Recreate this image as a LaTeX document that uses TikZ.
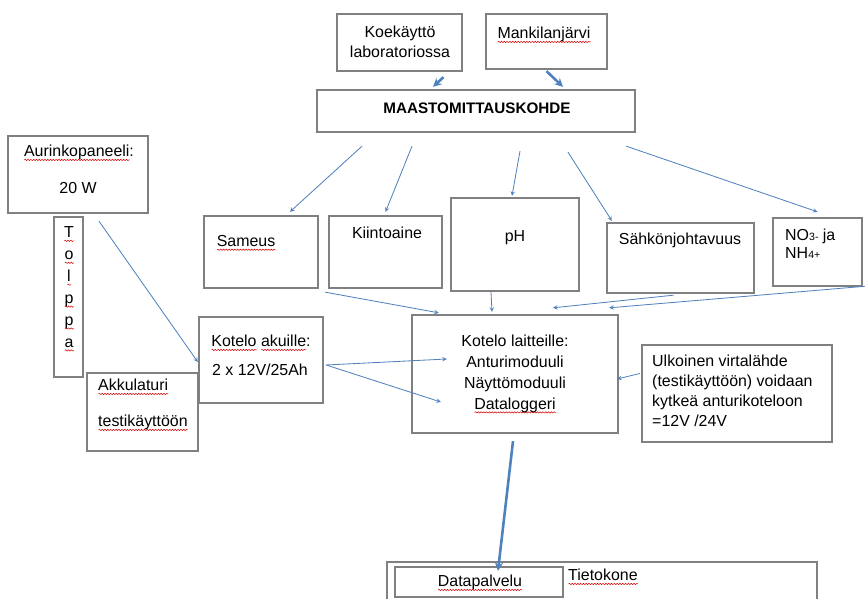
\documentclass[tikz,border=0pt]{standalone}
\usepackage{fontspec}
\setmainfont{Liberation Sans}
\usetikzlibrary{arrows}
\usetikzlibrary{fit}
\usetikzlibrary{decorations.pathmorphing}

\definecolor{boxgray}{RGB}{128,128,128}
\definecolor{arrowblue}{RGB}{79,129,189}
\newsavebox{\spellbox}
\newlength{\spellwd}
\newcommand{\spell}[1]{\sbox{\spellbox}{#1}\setlength{\spellwd}{\wd\spellbox}%
	\rlap{\tikz[baseline=0pt]\draw[red!85!black, line width=0.45pt, decorate,
		decoration={snake, amplitude=0.55pt, segment length=2.4pt}] (0pt,-2.8pt) -- (\spellwd,-2.8pt);}%
	\usebox{\spellbox}}

\begin{document}
\begin{tikzpicture}[x=0.03cm, y=-0.03cm,
	box/.style={draw=boxgray, line width=2pt, inner sep=0pt, fill=white},
	txt/.style={font=\fontsize{13.6}{17}\selectfont, inner sep=0pt},
	thinarrow/.style={->, >=stealth, draw=arrowblue, line width=0.7pt},
	thickarrow/.style={->, >=stealth, draw=arrowblue, line width=2.2pt}]

	\useasboundingbox[fill=white] (0,0) rectangle (865,599);

	% boxes
	\node[box, fit={(337,14) (462,71)}] (koe) {};
	\node[box, fit={(486,14) (607,69)}] (mank) {};
	\node[box, fit={(317,90) (635,132)}] (maasto) {};
	\node[box, fit={(8,136) (148,213)}] (aurinko) {};
	\node[box, fit={(54,217) (83,377)}] (tolppa) {};
	\node[box, fit={(87,373) (198,451)}] (akkulat) {};
	\node[box, fit={(199,317) (323,403)}] (akuille) {};
	\node[box, fit={(204,216) (318,288)}] (sameus) {};
	\node[box, fit={(329,216) (442,288)}] (kiinto) {};
	\node[box, fit={(451,198) (579,291)}] (ph) {};
	\node[box, fit={(607,223) (754,293)}] (sahko) {};
	\node[box, fit={(773,218) (862,286)}] (no3) {};
	\node[box, fit={(412,315) (618,433)}] (laitteet) {};
	\node[box, fit={(642,345) (832,442)}] (ulko) {};
	\node[box, fit={(387,562) (817,625)}] (tieto) {};
	\node[box, fit={(395,567) (563,597)}] (datapal) {};

	% text nodes
	\node[txt, align=center] (koeT) at (400,42) {Koekäyttö\\laboratoriossa};
	\node[txt] (mankT) at (544,35) {\spell{Mankilanjärvi}};
	\node[txt, font=\bfseries\fontsize{13}{16}\selectfont] (maastoT) at (477,108) {MAASTOMITTAUSKOHDE};
	\node[txt] (aurT) at (79,153) {\spell{Aurinkopaneeli}:};
	\node[txt] (wattT) at (78,188) {20 W};
	\node[txt, align=center, font=\fontsize{13.6}{18.7}\selectfont] (tolT) at (69,289)
		{\spell{T}\\\spell{o}\\\spell{l}\\\spell{p}\\\spell{p}\\\spell{a}};
	\node[txt, anchor=west] (akkT) at (98,387) {\spell{Akkulaturi}};
	\node[txt, anchor=west] (testT) at (98,423) {\spell{testikäyttöön}};
	\node[txt] (akuT) at (261,343) {\spell{Kotelo} \spell{akuille}:};
	\node[txt] (akkuT) at (260,370) {2 x 12V/25Ah};
	\node[txt] (samT) at (246,243) {\spell{Sameus}};
	\node[txt] (kiiT) at (387,233) {Kiintoaine};
	\node[txt] (phT) at (515,238) {pH};
	\node[txt] (sahT) at (680,240) {Sähkönjohtavuus};
	\node[txt, anchor=west, align=left, font=\fontsize{13.6}{15.5}\selectfont] (noT) at (785,244)
		{NO{\fontsize{9}{9}\selectfont 3-} ja\\NH{\fontsize{9}{9}\selectfont 4+}};
	\node[txt, align=center, font=\fontsize{13.6}{17.9}\selectfont] (laiT) at (515,374)
		{Kotelo laitteille:\\Anturimoduuli\\Näyttömoduuli\\\spell{Dataloggeri}};
	\node[txt, anchor=west, align=left] (ulkT) at (652,391)
		{Ulkoinen virtalähde\\(testikäyttöön) voidaan\\kytkeä anturikoteloon\\=12V /24V};
	\node[txt] (dpT) at (480,583) {\spell{Datapalvelu}};
	\node[txt, anchor=west] (tkT) at (568,577) {\spell{Tietokone}};

	% Arrows
	\draw[thickarrow] ([shift={(44,5)}]koe.south) -- ([shift={(-43,-2)}]maasto.north);
	\draw[thickarrow] ([shift={(0,1)}]mank.south) -- ([shift={(87,-2)}]maasto.north);
	\draw[thinarrow] ([shift={(-114,13)}]maasto.south) -- ([shift={(29,-3)}]sameus.north);
	\draw[thinarrow] ([shift={(-64,13)}]maasto.south) -- ([shift={(0,-3)}]kiinto.north);
	\draw[thinarrow] ([shift={(44,18)}]maasto.south) -- ([shift={(-3,-1)}]ph.north);
	\draw[thinarrow] ([shift={(92,19)}]maasto.south) -- ([shift={(6,-1)}]sahko.north west);
	\draw[thinarrow] ([shift={(-10,13)}]maasto.south east) -- ([shift={(0,-5)}]no3.north);
	\draw[thinarrow] ([shift={(21,7)}]aurinko.south) -- ([shift={(0,2)}]akuille.west);
	\draw[thinarrow] ([shift={(2,5)}]akuille.east) -- ([shift={(36,-15)}]laitteet.west);
	\draw[thinarrow] ([shift={(2,5)}]akuille.east) -- ([shift={(30,28)}]laitteet.west);
	\draw[thinarrow] ([shift={(6,3)}]sameus.south east) -- ([shift={(28,-1)}]laitteet.north west);
	\draw[thinarrow] ([shift={(-24,0)}]ph.south) -- ([shift={(-23,-2)}]laitteet.north);
	\draw[thinarrow] ([shift={(-7,1)}]sahko.south) -- ([shift={(38,-6)}]laitteet.north);
	\draw[thinarrow] ([shift={(3,-1)}]no3.south east) -- ([shift={(-10,-6)}]laitteet.north east);
	\draw[thinarrow] ([shift={(-1,-20)}]ulko.west) -- ([shift={(-2,5)}]laitteet.east);
	\draw[thickarrow] ([shift={(-2,7)}]laitteet.south) -- ([shift={(19,5)}]datapal.north);
\end{tikzpicture}
\end{document}
